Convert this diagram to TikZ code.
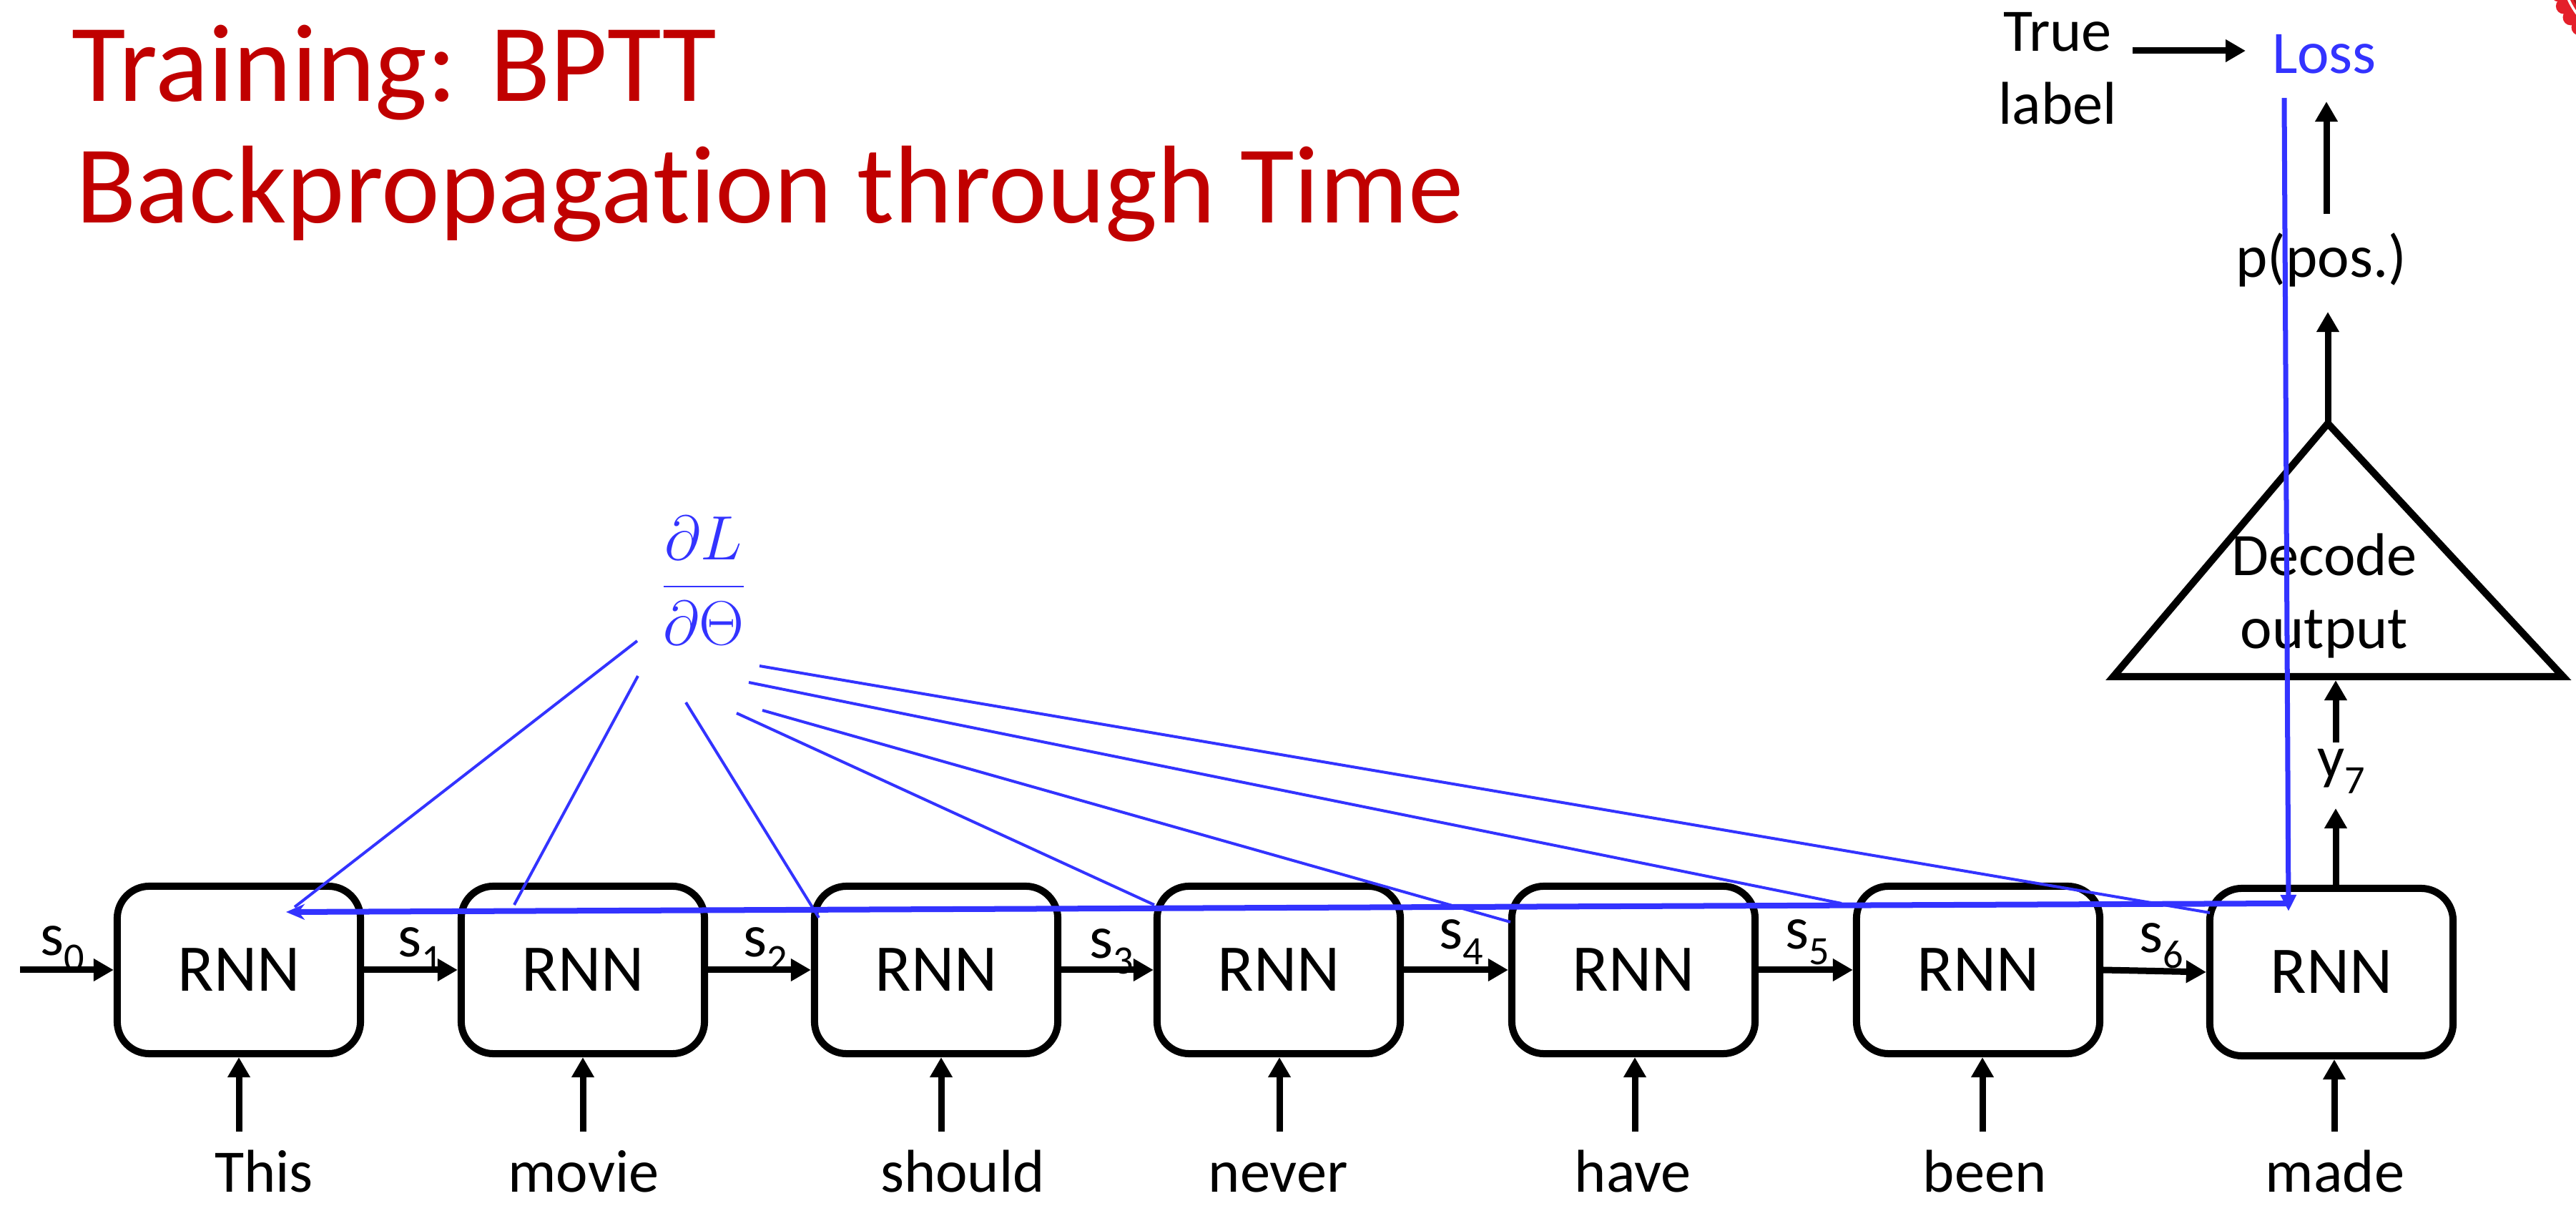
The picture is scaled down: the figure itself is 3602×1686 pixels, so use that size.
\documentclass[tikz,border=0pt]{standalone}
\usepackage{fontspec}
\setmainfont{Carlito}[Ligatures=NoCommon]
\usetikzlibrary{arrows.meta}
\definecolor{titlered}{RGB}{192,0,0}
\definecolor{gblue}{RGB}{51,51,255}
\definecolor{logored}{RGB}{228,32,42}
\definecolor{logodark}{RGB}{150,20,25}
\newcommand\mysub[1]{\raisebox{-0.25em}{\fontsize{16}{19}\selectfont #1}}
\begin{document}
\begin{tikzpicture}[x=0.01cm,y=-0.01cm,
  rnn/.style={draw, line width=0.1cm, rounded corners=0.45cm, minimum width=3.4cm, minimum height=2.34cm, inner sep=0pt, font=\fontsize{26.5}{32}\selectfont},
  lbl/.style={inner sep=0pt, font=\fontsize{24}{29}\selectfont},
  titletext/.style={inner sep=0pt, text=titlered, font=\fontsize{44}{52}\selectfont},
  blk/.style={line width=0.09cm, -{Triangle[length=0.28cm,width=0.3cm]}},
  fan/.style={gblue, line width=0.04cm},
]
\useasboundingbox (0,0) rectangle (3602,1686);

% logo fragment
\begin{scope}
\clip (3400,0) rectangle (3602,150);
\fill[logored] (3690,-45) circle (118);
\foreach \a in {0,9,...,351} \fill[logored, shift={(3690,-45)}] (\a:118) circle (11);
\draw[white, line width=0.035cm] (3690,-45) circle (108);
\draw[logodark, line width=0.02cm] (3690,-45) circle (101);
\end{scope}

% title
\node[titletext, anchor=base west] (t1) at (100,142) {Training: BPTT};
\node[titletext, anchor=base west] (t2) at (106,312) {Backpropagation through Time};

% RNN boxes
\node[rnn] (b1) at (334,1356) {RNN};
\node[rnn] (b2) at (815,1356) {RNN};
\node[rnn] (b3) at (1309,1356) {RNN};
\node[rnn] (b4) at (1788,1356) {RNN};
\node[rnn] (b5) at (2284,1356) {RNN};
\node[rnn] (b6) at (2766,1356) {RNN};
\node[rnn] (b7) at (3260,1359) {RNN};

% state arrows
\coordinate (s0in) at (28,1356);
\draw[blk] (s0in) -- (b1.west);
\draw[blk] (b1.east) -- (b2.west);
\draw[blk] (b2.east) -- (b3.west);
\draw[blk] (b3.east) -- (b4.west);
\draw[blk] (b4.east) -- (b5.west);
\draw[blk] (b5.east) -- (b6.west);
\draw[blk] (b6.east) -- (b7.west);

\node[lbl, anchor=base west] (ls0) at (56,1336) {s\mysub{0}};
\node[lbl, anchor=base west] (ls1) at (556,1338) {s\mysub{1}};
\node[lbl, anchor=base west] (ls2) at (1039,1338) {s\mysub{2}};
\node[lbl, anchor=base west] (ls3) at (1523,1340) {s\mysub{3}};
\node[lbl, anchor=base west] (ls4) at (2012,1327) {s\mysub{4}};
\node[lbl, anchor=base west] (ls5) at (2496,1327) {s\mysub{5}};
\node[lbl, anchor=base west] (ls6) at (2991,1332) {s\mysub{6}};

% inputs
\foreach \i/\x in {1/334,2/815,3/1316,4/1789,5/2286,6/2772,7/3264}{
  \coordinate (in\i) at (\x,1582);
  \draw[blk] (in\i) -- (in\i |- b\i.south);
}
\node[lbl, anchor=base] (w1) at (369,1666) {This};
\node[lbl, anchor=base] (w2) at (816,1666) {movie};
\node[lbl, anchor=base] (w3) at (1346,1666) {should};
\node[lbl, anchor=base] (w4) at (1787,1666) {never};
\node[lbl, anchor=base] (w5) at (2283,1666) {have};
\node[lbl, anchor=base] (w6) at (2775,1666) {been};
\node[lbl, anchor=base] (w7) at (3265,1666) {made};

% decoder
\coordinate (tA) at (3255,592);
\coordinate (tL) at (2955,946);
\coordinate (tR) at (3584,946);
\draw[line width=0.1cm] (tA) -- (tL) -- (tR) -- cycle;
\node[lbl, align=center] (dec) at (3250,833) {Decode\\output};

\coordinate (y7t) at (3266,1130);
\draw[blk] (y7t |- b7.north) -- (y7t);
\node[lbl, anchor=base west] (y7) at (3240,1088) {y\mysub{7}};
\coordinate (y7s) at (3266,1038);
\coordinate (tb) at (3266,951);
\draw[blk] (y7s) -- (tb);

\coordinate (pT) at (3255,436);
\draw[blk] (tA) -- (pT);
\node[lbl, anchor=base] (ppos) at (3246,388) {p(pos.)};
\coordinate (pL) at (3253,299);
\coordinate (lossT) at (3253,142);
\draw[blk] (pL) -- (lossT);

\node[lbl, anchor=base] (loss) at (3250,103) {\textcolor{gblue}{Loss}};
\node[lbl, align=center] (true) at (2877,96) {True\\label};
\coordinate (ta1) at (2982,71);
\coordinate (ta2) at (3140,71);
\draw[blk] (ta1) -- (ta2);

% gradient
\node[inner sep=0pt, text=gblue] (frac) at (984,812) {\fontsize{31}{37}\selectfont$\displaystyle\frac{\partial L}{\partial\Theta}$};

\coordinate (lossb) at (3194,137);
\coordinate (b7hit) at (3200,1274);
\draw[gblue, line width=0.07cm, -{Triangle[length=0.23cm,width=0.21cm]}] (lossb) -- (b7hit);
\coordinate (hr) at (3200,1263);
\coordinate (hl) at (400,1275);
\draw[gblue, line width=0.08cm, -{Stealth[length=0.26cm,width=0.22cm]}] (hr) -- (hl);

\coordinate (f1) at (891,896);  \coordinate (e1) at (412,1268);
\coordinate (f2) at (892,945);  \coordinate (e2) at (719,1265);
\coordinate (f3) at (959,982);  \coordinate (e3) at (1145,1283);
\coordinate (f4) at (1030,997); \coordinate (e4) at (1614,1265);
\coordinate (f5) at (1066,993); \coordinate (e5) at (2112,1289);
\coordinate (f6) at (1047,954); \coordinate (e6) at (2575,1263);
\coordinate (f7) at (1062,931); \coordinate (e7) at (3090,1276);
\foreach \i in {1,...,7} \draw[fan] (f\i) -- (e\i);
\end{tikzpicture}
\end{document}
